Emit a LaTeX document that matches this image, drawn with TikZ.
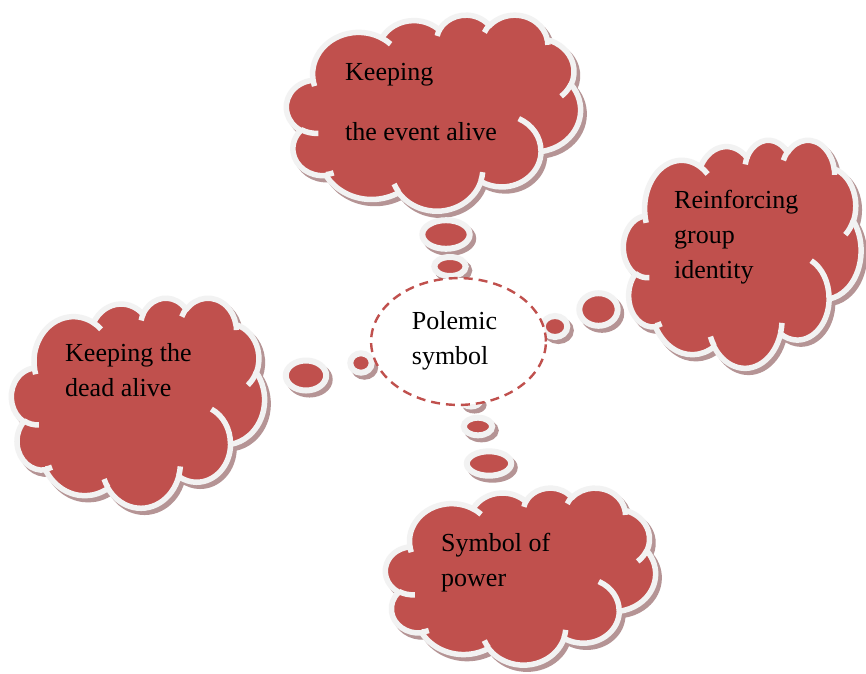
\documentclass[tikz,border=0pt]{standalone}
\usepackage{fontspec}
\setmainfont{Liberation Serif}
\usetikzlibrary{shapes.geometric}
\definecolor{cred}{RGB}{192,80,77}
\definecolor{cline}{RGB}{242,242,242}
\definecolor{cshadow}{RGB}{181,148,149}
\tikzset{
  cshad/.style={fill=cshadow, draw=cshadow, line width=5.5pt, line join=round},
  cfill/.style={fill=cred},
  cstroke/.style={draw=cline, line width=5.5pt, line join=round},
  bshad/.style={fill=cshadow, draw=cshadow, line width=6pt},
  bbody/.style={fill=cred, draw=cline, line width=6pt},
  txt/.style={font=\fontsize{26}{35}\selectfont, align=left, anchor=base west, inner sep=0pt, text=black},
  centerell/.style={ellipse, draw=cred, fill=white, line width=2.4pt, dash pattern=on 9pt off 6pt, inner sep=0pt},
}
% arc of the cloud outline: name, wR, hR, visual start angle, sweep
\newcommand{\mkarc}[5]{%
  \pgfmathsetmacro\tmpts{atan2((#2)*sin(#4),(#3)*cos(#4))}%
  \pgfmathsetmacro\tmpte{atan2((#2)*sin((#4)+(#5)),(#3)*cos((#4)+(#5)))}%
  \pgfmathsetmacro\tmpd{mod(\tmpte-(\tmpts)+720,360)}%
  \expandafter\xdef\csname cldS#1\endcsname{\tmpts}%
  \expandafter\xdef\csname cldD#1\endcsname{\tmpd}%
  \expandafter\xdef\csname cldA#1\endcsname{#2}%
  \expandafter\xdef\csname cldB#1\endcsname{#3}%
}
\newcommand{\carc}[1]{arc[x radius=\csname cldA#1\endcsname, y radius=\csname cldB#1\endcsname, start angle=\csname cldS#1\endcsname, delta angle=\csname cldD#1\endcsname]}
\newcommand{\cloudpath}{(3.900,14.370) \carc{1} \carc{2} \carc{3} \carc{4} \carc{5} \carc{6} \carc{7} \carc{8} \carc{9} \carc{10} \carc{11} -- cycle}
\newcommand{\cloudinner}{(4.693,26.177) \carc{12} (6.928,34.899) \carc{13} (16.478,39.090) \carc{14} (28.827,34.751) \carc{15} (34.129,22.954) \carc{16} (41.798,15.354) \carc{17} (38.324,5.426) \carc{18} (29.078,3.952) \carc{19} (22.141,4.720) \carc{20} (14.000,5.192) \carc{21} (4.127,15.789) \carc{22}}
\newcommand{\cloudshadow}[4]{%
  \pgfmathsetmacro\cwx{#3/43.2}\pgfmathsetmacro\cwy{#4/43.2}%
  \begin{scope}[shift={(#1+3.5,#2+4)}, x=\cwx pt, y=-\cwy pt]
    \path[cshad] \cloudpath;
  \end{scope}}
\newcommand{\cloudbody}[4]{%
  \pgfmathsetmacro\cwx{#3/43.2}\pgfmathsetmacro\cwy{#4/43.2}%
  \begin{scope}[shift={(#1,#2)}, x=\cwx pt, y=-\cwy pt]
    \path[cfill] \cloudpath;
    \path[cstroke] \cloudpath;
    \path[cstroke] \cloudinner;
  \end{scope}}
\newcommand{\bubble}[4]{%
  \path[bshad] (#1+3.5,#2+4) ellipse [x radius=#3, y radius=#4];}
\newcommand{\bubbletop}[4]{%
  \path[bbody] (#1,#2) ellipse [x radius=#3, y radius=#4];}
\begin{document}
\begin{tikzpicture}[x=1pt, y=-1pt]
\mkarc{1}{6.753}{9.190}{-190.4875}{123.7805}
\mkarc{2}{5.333}{7.267}{-144.1024}{89.9452}
\mkarc{3}{4.365}{5.945}{-145.8079}{99.7230}
\mkarc{4}{4.857}{6.595}{-130.9861}{117.2417}
\mkarc{5}{5.333}{7.273}{-78.7089}{109.0269}
\mkarc{6}{6.775}{9.220}{-46.2673}{130.2690}
\mkarc{7}{5.785}{7.867}{0.6250}{114.0333}
\mkarc{8}{6.752}{9.215}{22.4516}{115.1726}
\mkarc{9}{7.720}{10.543}{66.2426}{75.7110}
\mkarc{10}{4.360}{5.918}{-274.9421}{146.7356}
\mkarc{11}{4.345}{5.945}{-246.8285}{152.5189}
\mkarc{12}{4.345}{5.945}{86.7420}{26.4295}
\mkarc{13}{4.360}{5.918}{73.6105}{11.4475}
\mkarc{14}{6.752}{9.215}{137.6242}{14.0811}
\mkarc{15}{6.752}{9.215}{6.4533}{15.9984}
\mkarc{16}{5.785}{7.867}{-70.2924}{70.9174}
\mkarc{17}{5.333}{7.273}{30.3180}{27.7515}
\mkarc{18}{4.857}{6.595}{-13.7443}{14.8589}
\mkarc{19}{4.857}{6.595}{-149.1815}{18.1954}
\mkarc{20}{4.365}{5.945}{-163.4943}{17.6864}
\mkarc{21}{6.753}{9.190}{-66.7070}{12.3194}
\mkarc{22}{6.753}{9.190}{157.6544}{11.8582}
\fill[white] (0,0) rectangle (866,673);
\useasboundingbox (0,0) rectangle (866,673);
% shadows
\cloudshadow{286.5}{14.5}{294}{196}
\cloudshadow{623.5}{139.5}{237.5}{228}
\cloudshadow{11.5}{297.5}{253}{210}
\cloudshadow{385.5}{487.5}{270}{177}
\bubble{446}{234.5}{23.7}{14.3}
\bubble{450}{266.5}{15.7}{9.5}
\bubble{598.5}{309.5}{19.2}{16.3}
\bubble{555}{326.5}{12.3}{10.5}
\bubble{306}{375.5}{20.2}{15}
\bubble{361}{363}{10.7}{9.7}
\bubble{471}{401}{9}{5.5}
\bubble{478}{426.5}{14.2}{8.8}
\bubble{489}{463.5}{22.2}{12.2}
% bodies
\cloudbody{286.5}{14.5}{294}{196}
\cloudbody{623.5}{139.5}{237.5}{228}
\cloudbody{11.5}{297.5}{253}{210}
\cloudbody{385.5}{487.5}{270}{177}
\bubbletop{446}{234.5}{23.7}{14.3}
\bubbletop{450}{266.5}{15.7}{9.5}
\bubbletop{598.5}{309.5}{19.2}{16.3}
\bubbletop{555}{326.5}{12.3}{10.5}
\bubbletop{306}{375.5}{20.2}{15}
\bubbletop{361}{363}{10.7}{9.7}
\bubbletop{471}{401}{9}{5.5}
\bubbletop{478}{426.5}{14.2}{8.8}
\bubbletop{489}{463.5}{22.2}{12.2}
% centre
\node[centerell, minimum width=174.8pt, minimum height=126.8pt] (centre) at (458.5,341.5) {};
\node[txt] (polemic) at (411.7,364) {Polemic\\symbol};
% cloud texts (anchor = baseline of last line)
\node[txt] (event) at (345,140) {Keeping\\[25pt]the event alive};
\node[txt] (group) at (674,278) {Reinforcing\\group\\identity};
\node[txt] (dead) at (65,396) {Keeping the\\dead alive};
\node[txt] (power) at (441,586) {Symbol of\\power};
\end{tikzpicture}
\end{document}
